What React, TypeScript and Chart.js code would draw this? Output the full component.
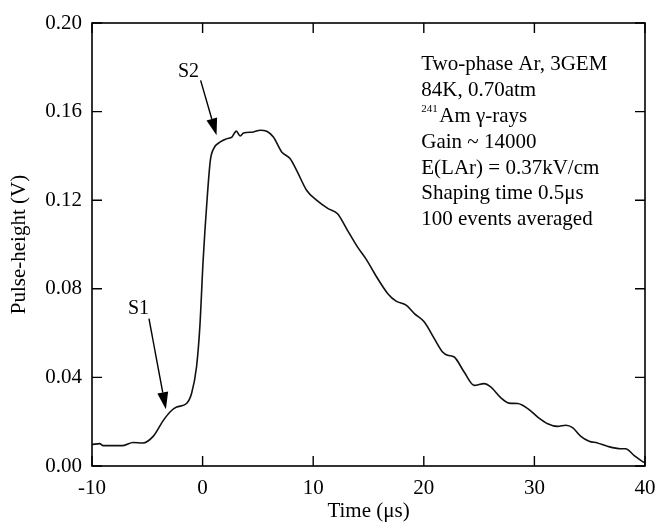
import React, { useEffect, useRef } from "react";
import { Chart, registerables } from "chart.js";

Chart.register(...registerables);

const timeUs = [
  -10, -9.3, -9.0, -7.2, -6.3, -5.4, -4.45, -3.55, -2.95, -2.35,
  -1.45, -1.0, -0.55, -0.25, 0.05, 0.4, 0.7, 1.0, 1.6, 2.2,
  2.65, 3.05, 3.4, 3.7, 4.6, 5.2, 5.8, 6.4, 7.15, 7.9,
  8.5, 9.4, 10.3, 11.35, 12.2, 13.1, 14.0, 14.8, 15.55, 16.75,
  17.5, 18.4, 19.15, 20.05, 20.95, 21.7, 22.15, 22.75, 23.65, 24.55,
  25.45, 26.05, 26.95, 27.7, 28.5, 29.4, 30.3, 31.2, 32.1, 32.85,
  33.45, 34.2, 34.95, 35.7, 36.6, 37.8, 38.25, 39.0, 39.75, 40.0,
];

const pulseHeightV = [
  0.0097, 0.0101, 0.0092, 0.0092, 0.0106, 0.0104, 0.0135, 0.0206, 0.0244, 0.0266,
  0.0282, 0.0327, 0.0447, 0.0628, 0.093, 0.12, 0.138, 0.1433, 0.1463, 0.1478,
  0.1485, 0.1512, 0.149, 0.1503, 0.1508, 0.1516, 0.1511, 0.1485, 0.1418, 0.1388,
  0.1335, 0.1245, 0.12, 0.1162, 0.1139, 0.1064, 0.0989, 0.0933, 0.0869, 0.0778,
  0.0744, 0.0726, 0.0688, 0.065, 0.0575, 0.0515, 0.05, 0.0492, 0.0424, 0.0364,
  0.0372, 0.0357, 0.0309, 0.0284, 0.0282, 0.0259, 0.0221, 0.0191, 0.0179, 0.0184,
  0.0173, 0.0134, 0.0112, 0.0104, 0.0089, 0.0078, 0.0078, 0.0048, 0.0021, 0.0015,
];

const xTickValues = [-10, 0, 10, 20, 30, 40];
const yTickValues = [0, 0.04, 0.08, 0.12, 0.16, 0.2];

const infoLines = [
  "Two-phase Ar, 3GEM",
  "84K, 0.70atm",
  "Am γ-rays",
  "Gain ~ 14000",
  "E(LAr) = 0.37kV/cm",
  "Shaping time 0.5μs",
  "100 events averaged",
];
const infoSuperscript = "241";

const SERIF = '"Liberation Serif", "Times New Roman", serif';

const decorPlugin = {
  id: "decor",
  afterDraw(chart: any) {
    const { ctx, chartArea } = chart;
    const xs = chart.scales.x;
    const ys = chart.scales.y;
    const { left, right, top, bottom } = chartArea;
    ctx.save();
    ctx.strokeStyle = "#000";
    ctx.fillStyle = "#000";
    // frame
    ctx.lineWidth = 1.6;
    ctx.strokeRect(left, top, right - left, bottom - top);
    // inward ticks
    const tl = 10;
    ctx.lineWidth = 1.4;
    ctx.beginPath();
    xTickValues.forEach((v) => {
      const px = xs.getPixelForValue(v);
      ctx.moveTo(px, bottom);
      ctx.lineTo(px, bottom - tl);
      ctx.moveTo(px, top);
      ctx.lineTo(px, top + tl);
    });
    yTickValues.forEach((v) => {
      const py = ys.getPixelForValue(v);
      ctx.moveTo(left, py);
      ctx.lineTo(left + tl, py);
      ctx.moveTo(right, py);
      ctx.lineTo(right - tl, py);
    });
    ctx.stroke();

    // arrows
    const arrow = (x0: number, y0: number, x1: number, y1: number) => {
      const ax = xs.getPixelForValue(x0);
      const ay = ys.getPixelForValue(y0);
      const bx = xs.getPixelForValue(x1);
      const by = ys.getPixelForValue(y1);
      const ang = Math.atan2(by - ay, bx - ax);
      const hl = 17;
      const hw = 5.5;
      const cx = bx - hl * Math.cos(ang);
      const cy = by - hl * Math.sin(ang);
      ctx.lineWidth = 1.4;
      ctx.beginPath();
      ctx.moveTo(ax, ay);
      ctx.lineTo(cx, cy);
      ctx.stroke();
      ctx.beginPath();
      ctx.moveTo(bx, by);
      ctx.lineTo(cx + hw * Math.sin(ang), cy - hw * Math.cos(ang));
      ctx.lineTo(cx - hw * Math.sin(ang), cy + hw * Math.cos(ang));
      ctx.closePath();
      ctx.fill();
    };
    arrow(-4.85, 0.0665, -3.32, 0.0256);
    arrow(-0.18, 0.1741, 1.26, 0.1493);

    ctx.font = `20px ${SERIF}`;
    ctx.textAlign = "left";
    ctx.textBaseline = "alphabetic";
    ctx.fillText("S1", xs.getPixelForValue(-6.75), ys.getPixelForValue(0.0688));
    ctx.fillText("S2", xs.getPixelForValue(-2.23), ys.getPixelForValue(0.1757));

    // info block
    const bx = xs.getPixelForValue(19.77);
    const by0 = ys.getPixelForValue(0.1786);
    const lh = 25.8;
    infoLines.forEach((t, i) => {
      const y = by0 + i * lh;
      if (i === 2) {
        ctx.font = `11px ${SERIF}`;
        ctx.fillText(infoSuperscript, bx, y - 10);
        const w = ctx.measureText(infoSuperscript).width;
        ctx.font = `21px ${SERIF}`;
        ctx.fillText(t, bx + w + 1.5, y);
      } else {
        ctx.font = `21px ${SERIF}`;
        ctx.fillText(t, bx, y);
      }
    });
    ctx.restore();
  },
};

export default function App() {
  const ref = useRef<HTMLCanvasElement>(null);
  useEffect(() => {
    if (!ref.current) return;
    const chart = new Chart(ref.current, {
      type: "line",
      data: {
        datasets: [
          {
            data: timeUs.map((t, i) => ({ x: t, y: pulseHeightV[i] })),
            borderColor: "#111",
            borderWidth: 1.6,
            pointRadius: 0,
            fill: false,
            cubicInterpolationMode: "monotone",
          },
        ],
      },
      options: {
        animation: false,
        responsive: false,
        events: [],
        layout: { padding: { top: 23, right: 13, left: 0, bottom: 0 } },
        plugins: { legend: { display: false }, tooltip: { enabled: false } },
        scales: {
          x: {
            type: "linear",
            min: -10,
            max: 40,
            afterBuildTicks: (s: any) => {
              s.ticks = xTickValues.map((v) => ({ value: v }));
            },
            afterFit: (s: any) => {
              s.height = 58;
              s.paddingLeft = 0;
              s.paddingRight = 0;
            },
            grid: { display: false, drawTicks: false },
            border: { display: false },
            ticks: {
              padding: 10,
              color: "#000",
              font: { family: SERIF, size: 21 },
              maxRotation: 0,
              callback: (v: any) => String(v),
            },
            title: {
              display: true,
              text: "Time (μs)",
              color: "#000",
              font: { family: SERIF, size: 21 },
              padding: { top: 0, bottom: 0 },
            },
          },
          y: {
            type: "linear",
            min: 0,
            max: 0.2,
            afterBuildTicks: (s: any) => {
              s.ticks = yTickValues.map((v) => ({ value: v }));
            },
            afterFit: (s: any) => {
              s.width = 92;
              s.paddingTop = 0;
              s.paddingBottom = 0;
            },
            grid: { display: false, drawTicks: false },
            border: { display: false },
            ticks: {
              padding: 10,
              color: "#000",
              font: { family: SERIF, size: 21 },
              callback: (v: any) => Number(v).toFixed(2),
            },
            title: {
              display: true,
              text: "Pulse-height (V)",
              color: "#000",
              font: { family: SERIF, size: 21 },
              padding: { top: 7, bottom: 0 },
            },
          },
        },
      } as any,
      plugins: [decorPlugin],
    });
    return () => chart.destroy();
  }, []);
  return (
    <div style={{ position: "absolute", left: 0, top: 0, width: 658, height: 524, background: "#fff" }}>
      <canvas ref={ref} width={658} height={524} />
    </div>
  );
}
